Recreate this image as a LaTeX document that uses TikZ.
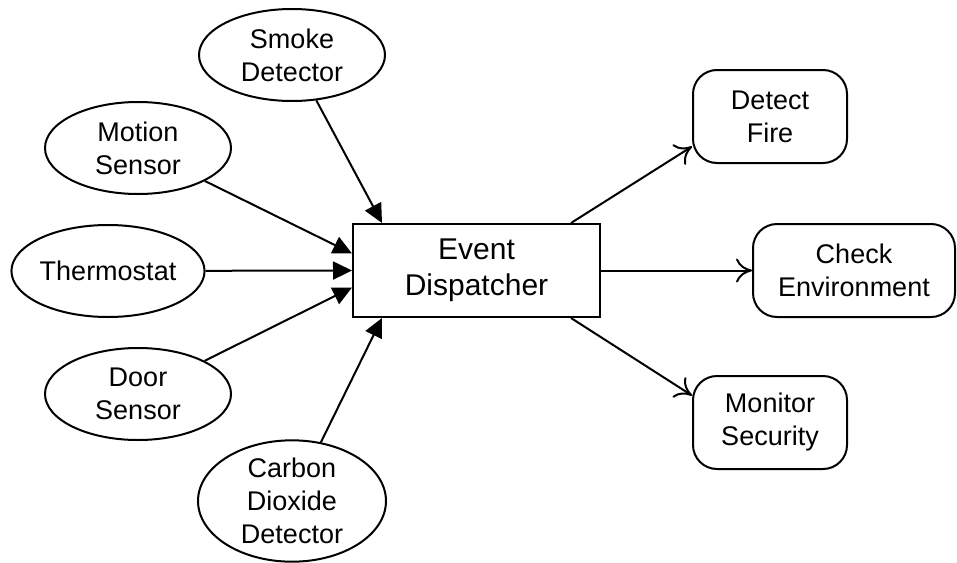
\documentclass[tikz,border=0pt]{standalone}
\usepackage{fontspec}
\setmainfont{Liberation Sans}
\usetikzlibrary{shapes.geometric,arrows.meta}
\begin{document}
\begin{tikzpicture}[x=1pt,y=-1pt,
  line width=2pt,
  source/.style={ellipse,draw,inner sep=0pt,minimum width=186pt,minimum height=92pt,
    align=center,font=\fontsize{27}{33}\selectfont},
  hub/.style={rectangle,draw,inner sep=0pt,minimum width=247pt,minimum height=93pt,
    align=center,font=\fontsize{30}{36}\selectfont},
  task/.style={rectangle,draw,rounded corners=24pt,inner sep=0pt,minimum height=93pt,
    align=center,font=\fontsize{27}{33}\selectfont},
  feed/.style={-{Triangle[length=19pt,width=18pt]}},
  route/.style={-{To[length=16pt,width=24pt]}}]
\useasboundingbox (0,0) rectangle (957,562);

% inputs
\node[source] (smoke)  at (292,55)  {Smoke\\Detector};
\node[source] (motion) at (138,148) {Motion\\Sensor};
\node[source] (thermo) at (108,271) {Thermostat};
\node[source] (door)   at (138,394) {Door\\Sensor};
\node[source,minimum width=188pt,minimum height=120pt] (co2) at (292,501) {Carbon\\Dioxide\\Detector};

% dispatcher
\node[hub] (disp) at (476.5,270.5) {Event\\Dispatcher};

% handlers
\node[task,minimum width=154pt] (fire)    at (770,116.5) {Detect\\Fire};
\node[task,minimum width=202pt] (env)     at (854,270.5) {Check\\Environment};
\node[task,minimum width=154pt] (monitor) at (770,422.5) {Monitor\\Security};

% incoming events
\draw[feed] (smoke)  -- ([xshift=30pt]disp.north west);
\draw[feed] (motion) -- ([yshift=17pt]disp.west);
\draw[feed] (thermo) -- (disp.west);
\draw[feed] (door)   -- ([yshift=-17pt]disp.west);
\draw[feed] (co2)    -- ([xshift=30pt]disp.south west);

% dispatched handlers
\draw[route] ([xshift=-30pt]disp.north east) -- ([yshift=-30pt]fire.west);
\draw[route] (disp.east) -- (env.west);
\draw[route] ([xshift=-30pt]disp.south east) -- ([yshift=27pt]monitor.west);
\end{tikzpicture}
\end{document}
